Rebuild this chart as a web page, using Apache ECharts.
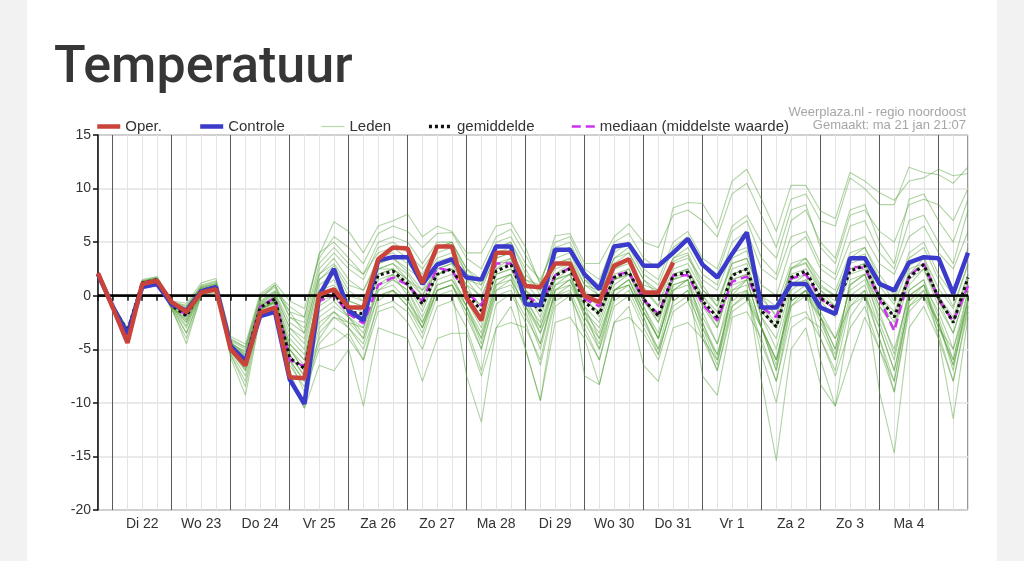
<!DOCTYPE html>
<html><head><meta charset="utf-8">
<script src="https://cdn.jsdelivr.net/npm/echarts@6/dist/echarts.min.js"></script>
<style>html,body{margin:0;padding:0;background:#fff;}#c{width:1024px;height:561px;}</style>
</head><body><div id="c"></div>
<script>
const times = ['ma21 18',
 'di22 00','di22 06','di22 12','di22 18','wo23 00','wo23 06','wo23 12','wo23 18',
 'do24 00','do24 06','do24 12','do24 18','vr25 00','vr25 06','vr25 12','vr25 18',
 'za26 00','za26 06','za26 12','za26 18','zo27 00','zo27 06','zo27 12','zo27 18',
 'ma28 00','ma28 06','ma28 12','ma28 18','di29 00','di29 06','di29 12','di29 18',
 'wo30 00','wo30 06','wo30 12','wo30 18','do31 00','do31 06','do31 12','do31 18',
 'vr1 00','vr1 06','vr1 12','vr1 18','za2 00','za2 06','za2 12','za2 18',
 'zo3 00','zo3 06','zo3 12','zo3 18','ma4 00','ma4 06','ma4 12','ma4 18',
 'di5 00','di5 06','di5 12'];
const dayLabels = ['Di 22','Wo 23','Do 24','Vr 25','Za 26','Zo 27','Ma 28','Di 29','Wo 30','Do 31','Vr 1','Za 2','Zo 3','Ma 4'];
const yTicks = {min: -20, max: 15, step: 5};

const oper = [2.1, -1.1,-4.4,1.1,1.4, -0.6,-1.5,0.3,0.6, -5.0,-6.5,-1.6,-1.1, -7.6,-7.7,0.1,0.6,
 -1.1,-1.1,3.4,4.5, 4.4,1.2,4.6,4.6, -0.2,-2.3,4.0,4.0, 0.9,0.8,3.0,3.0, 0.0,-0.6,2.8,3.4, 0.3,0.3,3.1];
const controle = [2.0, -1.0,-3.6,0.8,1.1, -0.8,-1.4,0.4,0.8, -4.7,-6.1,-1.9,-1.5, -7.8,-10.1,0.0,2.5,
 -1.4,-2.3,3.3,3.6, 3.6,1.1,2.9,3.4, 1.7,1.5,4.6,4.6, -0.8,-0.9,4.3,4.3, 2.0,0.6,4.6,4.8,
 2.8,2.8,4.0,5.3, 2.9,1.7,3.9,5.9, -1.1,-1.1,1.1,1.1, -1.1,-1.7,3.5,3.5, 1.1,0.5,3.1,3.6, 3.5,0.2,4.0];
const gemiddelde = [2.0, -1.0,-3.3,1.2,1.5, -0.9,-1.9,0.5,0.8, -4.8,-6.0,-1.1,-0.3, -5.8,-6.8,-0.2,0.2,
 -1.5,-1.7,1.9,2.3, 1.1,-0.8,2.0,2.5, 0.2,-1.4,2.3,2.9, -0.1,-1.4,1.9,2.5, -0.6,-1.7,1.7,2.2,
 -0.3,-1.9,1.9,2.2, -0.5,-2.0,1.9,2.5, -1.4,-2.9,1.7,2.3, -0.2,-1.2,2.3,2.8, -0.2,-2.0,1.7,2.9, -0.2,-2.5,1.7];
const mediaan = [2.0, -1.0,-3.3,1.2,1.5, -0.9,-1.8,0.5,0.9, -4.8,-5.9,-1.0,-0.2, -6.0,-6.6,-0.5,0.1,
 -1.7,-2.6,1.0,1.7, 1.0,-0.5,2.6,2.3, 0.3,-0.9,3.0,3.0, 0.0,-0.8,1.9,2.6, -0.3,-1.0,1.9,2.2,
 -0.4,-1.7,1.9,1.9, -0.8,-2.3,1.3,1.8, -1.1,-2.0,1.6,2.0, -0.3,-1.2,2.7,2.6, -0.3,-3.3,1.8,3.0, -0.3,-2.4,0.9];

const lid01 = [2.1, -0.9,-3.1,1.4,1.7, -0.7,-1.2,0.8,1.1, -4.3,-5.5,-0.8,0.2, -3.0,-4.5,1.5,2.8, 0.5,-0.5,3.0,3.5, 2.2,0.5,3.2,3.6, 1.5,-0.3,3.5,4.0, 1.2,-0.5,3.0,3.4, 0.5,-0.8,2.5,3.3, 0.8,-0.9,3.2,3.8, 0.6,-1.0,3.5,4.2, -0.3,-1.8,2.6,3.1, 0.8,0.0,3.4,3.9, 0.9,-0.8,2.8,3.6, 0.7,-1.2,2.9];
const lid02 = [1.9, -1.1,-3.6,1.0,1.3, -1.2,-3.5,0.2,0.5, -5.3,-7.5,-1.6,-1.0, -6.5,-8.5,-4.5,-3.0, -4.0,-6.0,-1.5,-1.0, -2.5,-5.0,-1.0,-0.5, -3.0,-7.0,-0.8,0.2, -2.5,-6.5,-0.5,0.3, -3.5,-6.0,-1.0,0.0, -3.0,-5.5,-0.5,0.5, -3.5,-7.0,-1.0,0.3, -4.5,-8.0,-2.0,-1.5, -4.0,-7.5,-3.0,-1.0, -5.0,-9.0,-1.5,0.0, -2.5,-6.5,-1.0];
const lid03 = [2.0, -0.8,-3.0,1.5,1.8, -0.5,-0.7,1.2,1.6, -3.8,-4.5,0.2,1.2, -0.5,-1.2,3.5,5.5, 4.5,3.0,5.8,6.5, 6.0,4.5,5.8,5.9, 3.5,2.5,5.5,6.2, 3.8,1.2,5.0,5.5, 2.5,1.5,5.0,5.8, 3.5,2.5,8.2,8.7, 8.6,6.3,10.7,11.8, 9.0,6.0,10.3,10.3, 7.9,7.2,11.5,10.7, 9.6,8.9,10.7,11.0, 11.8,11.2,11.4];
const lid04 = [2.0, -0.9,-3.2,1.3,1.6, -0.8,-1.5,0.6,1.0, -4.5,-5.2,-0.5,0.5, -1.0,-2.0,3.8,6.9, 6.0,4.0,6.5,7.0, 7.6,5.5,6.5,6.0, 4.0,4.0,6.5,6.8, 4.5,1.0,5.6,5.8, 3.0,3.0,5.5,6.7, 5.0,4.5,7.5,8.0, 7.0,5.5,9.5,10.5, 7.5,4.5,9.0,9.5, 7.0,6.5,11.0,10.0, 8.5,8.5,12.0,11.5, 11.3,10.5,12.0];
const lid05 = [2.0, -1.0,-3.4,1.2,1.5, -1.0,-2.5,0.4,0.7, -5.0,-6.5,-1.2,-0.5, -5.5,-7.5,-1.5,-0.5, -2.0,-3.0,1.0,1.5, 0.5,-2.5,1.0,1.5, -1.0,-4.0,1.5,2.0, -1.5,-5.0,0.5,1.5, -2.0,-4.5,0.5,1.5, -1.5,-4.0,1.0,1.5, -2.5,-6.0,0.5,1.0, -8.0,-15.4,-5.0,-3.0, -8.3,-10.3,-6.0,-2.0, -5.0,-8.0,-0.5,1.0, -3.0,-5.0,-0.5];
const lid06 = [2.0, -1.0,-3.3,1.1,1.4, -0.9,-2.0,0.4,0.8, -4.9,-6.3,-1.3,-0.6, -4.5,-6.0,0.5,1.5, -1.0,-2.5,2.0,2.5, 1.0,-1.5,2.0,2.5, 0.0,-2.5,2.0,2.5, 0.0,-3.0,1.5,2.0, -1.5,-3.0,1.0,2.0, -1.0,-3.5,1.5,2.5, -0.5,-3.0,2.0,2.5, -2.0,-5.0,0.5,1.5, -2.0,-4.0,-1.0,0.5, -9.0,-14.7,-3.0,-1.0, -4.0,-8.0,-1.5];
const lid07 = [2.0, -1.1,-3.5,1.1,1.4, -1.1,-3.0,0.3,0.6, -5.2,-7.0,-1.5,-0.9, -6.0,-8.0,-3.0,-1.5, -3.0,-5.0,-1.0,-0.5, -1.5,-4.0,0.0,0.5, -7.5,-11.8,-3.0,-1.0, -5.0,-9.8,-2.5,-2.0, -4.0,-8.3,-2.5,-2.0, -3.5,-6.0,-1.5,-0.5, -4.0,-7.0,-1.5,-0.5, -3.0,-6.0,-0.5,0.5, -2.0,-5.0,1.0,2.0, -1.0,-3.0,2.5,3.0, -0.5,-3.5,1.0];
const lid08 = [2.0, -1.0,-3.6,1.0,1.2, -1.3,-4.0,0.0,0.3, -5.8,-9.3,-2.0,-1.5, -8.0,-10.5,-6.5,-7.0, -5.0,-10.3,-3.0,-3.5, -4.0,-8.0,-4.0,-3.5, -3.5,-7.5,-3.0,-2.5, -3.0,-6.0,0.0,1.0, -1.5,-5.0,0.5,1.0, -2.0,-5.5,-0.5,0.5, -2.5,-5.5,0.0,1.5, -3.0,-7.0,1.0,2.0, -2.0,-6.0,1.5,2.0, -1.5,-5.5,0.5,1.5, -2.0,-6.0,0.5];
const lid09 = [2.0, -1.0,-3.3,1.2,1.5, -0.9,-1.8,0.5,0.9, -4.7,-5.8,-1.0,-0.2, -4.0,-5.5,0.0,0.5, -1.5,-2.0,1.5,2.0, 1.0,-0.5,2.5,3.0, 0.5,-1.0,3.0,3.2, 0.0,-1.5,2.0,2.5, -0.5,-1.5,2.0,2.5, -0.5,-2.0,1.5,2.0, -0.8,-2.5,1.5,2.0, -1.5,-3.0,1.5,2.0, 0.0,-1.0,2.5,3.0, -0.5,-2.5,1.5,2.5, -0.5,-2.5,1.5];
const lid10 = [2.1, -0.9,-3.1,1.3,1.6, -0.6,-1.0,1.0,1.4, -4.0,-4.8,0.0,1.0, -2.0,-3.0,2.5,4.0, 2.5,1.5,4.5,5.0, 4.0,2.5,4.5,5.0, 2.5,1.0,4.5,5.0, 2.5,0.0,4.0,4.5, 1.5,0.5,3.5,4.5, 2.0,1.0,4.5,5.5, 3.0,2.0,6.0,7.0, 3.5,2.0,7.0,8.0, 5.0,3.5,8.0,8.5, 5.0,3.0,9.0,9.5, 7.0,5.0,9.0];
const lid11 = [2.0, -1.0,-3.4,1.2,1.5, -1.0,-2.8,0.3,0.7, -5.0,-6.8,-1.3,-0.5, -5.0,-7.0,-1.0,0.0, -2.0,-4.0,1.0,2.0, 0.0,-3.0,1.5,2.0, -1.0,-4.5,1.0,2.0, -5.0,-9.8,-1.0,0.0, -3.0,-6.0,0.0,1.0, -2.0,-5.0,0.5,1.5, -3.0,-6.5,0.5,1.5, -3.0,-7.0,-1.0,0.5, -6.0,-10.3,-2.0,0.0, -3.0,-7.0,0.0,1.0, -2.5,-7.0,0.0];
const lid12 = [2.0, -1.1,-3.5,1.1,1.3, -1.0,-3.5,0.2,0.6, -5.5,-8.0,-1.8,-1.0, -6.0,-9.0,-5.0,-4.5, -3.5,-6.0,-0.5,0.5, -1.0,-3.5,0.5,1.0, -1.5,-5.0,0.5,1.5, -1.0,-4.5,0.5,1.5, -1.5,-3.5,0.5,1.5, -1.5,-4.0,0.5,1.5, -7.5,-9.3,-2.0,-1.5, -4.0,-8.0,-1.0,0.0, -2.0,-5.0,1.0,2.0, -2.5,-6.0,0.5,1.5, -4.0,-11.5,-2.0];
const lid13 = [2.0, -0.9,-3.2,1.3,1.6, -0.7,-1.3,0.7,1.1, -4.4,-5.3,-0.6,0.4, -1.5,-3.5,2.0,3.5, 1.5,0.5,3.5,4.0, 3.0,1.5,4.0,4.5, 2.0,0.5,4.0,4.5, 1.5,0.5,3.5,4.0, 1.0,0.0,3.0,4.0, 1.5,0.5,3.5,4.5, 2.0,1.0,5.0,6.0, 2.5,1.5,5.5,6.0, 3.0,2.0,6.5,7.0, 4.0,2.5,7.0,7.5, 5.0,3.0,8.0];
const lid14 = [2.0, -1.0,-3.4,1.2,1.4, -1.0,-2.2,0.4,0.7, -5.0,-6.5,-1.2,-0.6, -5.5,-7.5,-2.0,-1.0, -2.0,-3.5,0.5,1.0, -0.5,-3.0,0.5,1.0, -1.0,-3.5,1.0,1.5, -1.0,-3.0,1.0,2.0, -2.0,-4.0,0.5,1.0, -1.5,-4.0,0.5,1.0, -2.0,-4.5,0.0,0.5, -3.0,-6.0,-0.5,0.5, -1.5,-4.0,0.5,1.5, -2.0,-5.0,0.0,1.0, -1.5,-5.0,0.5];
const lid15 = [2.0, -1.0,-3.3,1.2,1.5, -0.8,-1.6,0.6,0.9, -4.7,-5.9,-1.0,-0.1, -3.5,-5.0,1.0,2.0, -0.5,-1.0,2.5,3.0, 2.0,0.0,2.5,3.0, 1.0,-1.5,2.5,3.5, 0.5,-2.0,2.0,3.0, 0.0,-2.0,1.5,2.0, 0.0,-2.5,2.0,2.5, 0.0,-2.0,2.5,3.0, -1.0,-3.0,2.5,3.0, 0.5,-1.0,3.0,3.5, 0.0,-2.0,2.0,3.5, 0.0,-2.5,2.0];
const lid16 = [2.0, -0.9,-3.2,1.3,1.6, -0.8,-1.4,0.7,1.0, -4.5,-5.5,-0.7,0.3, -2.5,-3.5,2.0,3.0, 1.0,0.5,3.0,3.5, 2.5,1.5,3.5,4.0, 1.5,1.0,3.5,4.0, 1.5,1.0,3.0,3.5, 1.0,0.5,2.5,3.0, 1.0,0.5,3.0,3.5, 1.5,0.5,4.0,4.5, 1.0,0.0,4.5,5.5, 2.5,1.5,5.0,5.5, 3.0,2.0,5.5,6.5, 4.0,2.5,6.0];
const lid17 = [2.0, -1.1,-3.6,1.0,1.2, -1.2,-4.5,0.1,0.4, -5.5,-8.5,-1.9,-1.5, -7.0,-10.5,-3.5,-2.0, -3.0,-4.5,0.0,0.5, -1.0,-3.0,0.5,1.0, -2.0,-5.0,0.0,0.5, -2.0,-4.5,0.5,1.0, -7.5,-8.3,-2.5,-1.0, -6.5,-8.0,-3.0,-2.5, -4.0,-6.0,-1.0,0.0, -3.0,-6.0,0.0,1.0, -4.0,-7.0,-1.0,0.0, -4.0,-8.0,-0.5,0.5, -3.0,-6.0,-0.5];
const lid18 = [2.0, -1.0,-3.2,1.2,1.6, -0.9,-1.7,0.6,0.9, -4.6,-5.6,-0.9,0.0, -3.0,-4.0,1.5,2.5, 0.0,-0.5,2.5,3.0, 1.5,0.0,3.0,3.5, 1.0,0.0,3.0,3.5, 0.5,-0.5,2.5,3.0, 0.0,-1.0,2.5,3.5, 0.5,-1.0,2.5,3.0, 0.5,-0.5,3.0,3.5, 0.0,-1.0,3.0,3.5, 1.0,0.0,3.5,4.5, 1.5,-0.5,4.0,5.0, 2.0,0.0,4.5];
const lid19 = [2.0, -1.0,-3.4,1.1,1.4, -1.0,-2.5,0.3,0.6, -5.1,-7.0,-1.4,-0.7, -5.0,-7.0,-2.5,-1.5, -2.5,-4.0,0.0,0.5, -0.5,-2.5,0.5,1.0, -1.5,-4.0,0.5,1.0, -1.0,-3.5,0.0,0.5, -2.5,-5.0,-0.5,0.5, -2.5,-5.0,-1.0,0.0, -3.0,-5.5,-0.5,0.5, -5.5,-10.0,-3.0,-2.0, -3.0,-6.0,-0.5,0.5, -4.0,-9.0,-1.0,0.0, -3.5,-8.0,-1.0];
const lid20 = [2.0, -0.9,-3.1,1.4,1.7, -0.6,-0.9,0.9,1.3, -4.1,-4.8,-0.3,1.0, -1.5,-2.0,4.0,5.0, 3.5,2.0,5.0,5.5, 5.0,3.0,5.0,5.0, 2.5,1.5,4.5,5.0, 2.0,0.5,4.0,4.5, 1.5,0.0,3.5,4.0, 1.5,0.0,3.5,4.0, 1.0,-1.0,3.0,3.5, 0.0,-2.0,2.5,3.5, 1.5,0.5,4.0,4.5, 2.0,0.0,3.5,4.5, 1.5,-1.0,3.0];
const lid21 = [2.0, -1.0,-3.3,1.2,1.5, -0.9,-1.9,0.5,0.8, -4.8,-6.1,-1.1,-0.4, -5.0,-6.5,-0.5,0.0, -1.0,-1.5,2.0,2.5, 1.5,-1.0,2.0,2.5, 0.0,-2.0,2.0,2.5, -0.5,-2.5,1.5,2.0, -1.0,-2.5,1.5,2.0, -0.5,-2.5,1.5,2.0, -1.0,-3.0,1.5,2.0, -2.0,-4.0,1.0,1.5, -0.5,-2.0,2.0,2.5, -1.0,-3.0,1.0,2.5, -1.0,-3.5,1.0];
const lid22 = [2.0, -1.0,-3.2,1.2,1.5, -0.8,-1.7,0.5,0.8, -4.6,-5.7,-0.9,-0.1, -4.5,-6.0,0.5,1.0, -0.5,-1.0,2.5,2.5, 1.5,0.5,2.0,2.5, 0.5,-1.0,2.5,3.0, 0.5,-1.0,1.5,2.5, -0.5,-1.5,1.5,2.5, -0.5,-2.0,2.0,2.5, 0.0,-1.5,2.0,2.5, -1.0,-2.5,2.0,2.5, 0.5,-0.5,2.5,3.0, 0.0,-1.5,2.0,3.0, 0.0,-2.0,2.0];
const lid23 = [2.0, -1.1,-3.4,1.1,1.4, -1.0,-2.3,0.4,0.7, -5.0,-6.6,-1.3,-0.6, -6.0,-8.0,-4.0,-2.0, -2.5,-3.0,0.5,1.5, 0.5,-2.0,1.0,1.5, -0.5,-3.0,1.5,2.0, -0.5,-3.5,1.0,1.5, -1.0,-4.0,0.5,1.5, -1.0,-4.0,1.0,1.5, -1.5,-4.5,1.0,1.5, -3.0,-6.5,-0.5,0.5, -2.5,-5.5,0.0,1.0, -3.0,-7.0,-1.0,0.5, -2.5,-6.5,-0.5];
const lid24 = [2.0, -0.9,-3.2,1.3,1.6, -0.7,-1.1,0.8,1.2, -4.2,-5.0,-0.2,0.8, -2.0,-2.5,3.0,4.5, 3.0,2.0,4.0,4.5, 3.5,2.0,4.5,5.0, 2.0,1.5,5.0,5.5, 3.0,1.5,4.5,5.0, 2.0,1.0,4.0,5.0, 2.5,1.5,5.0,6.0, 3.5,2.5,6.5,7.5, 5.0,3.5,8.0,8.5, 4.5,3.0,7.5,8.0, 6.0,5.0,8.5,9.0, 8.5,7.0,10.0];
const leden = [lid01,lid02,lid03,lid04,lid05,lid06,lid07,lid08,lid09,lid10,lid11,lid12,
               lid13,lid14,lid15,lid16,lid17,lid18,lid19,lid20,lid21,lid22,lid23,lid24];

const FONT = "'Liberation Sans', Arial, sans-serif";
const chart = echarts.init(document.getElementById('c'), null, {renderer: 'canvas'});

const GREEN = '#4f9e33';
const series = leden.map(d => ({
  type: 'line', name: 'Leden', data: d, symbol: 'none', silent: true, z: 2,
  lineStyle: {color: GREEN, width: 1.1, opacity: 0.45},
  itemStyle: {color: GREEN},
  emphasis: {disabled: true}
}));
series.push({
  type: 'line', name: 'mediaan (middelste waarde)', data: mediaan, symbol: 'none', z: 4,
  lineStyle: {color: '#cc33ee', width: 2.5, type: [9, 5]}, itemStyle: {color: '#cc33ee'},
  emphasis: {disabled: true},
  markLine: {silent: true, symbol: 'none', label: {show: false},
    lineStyle: {color: '#000', width: 2.5, type: 'solid'}, data: [{yAxis: 0}], animation: false}
});
series.push({
  type: 'line', name: 'gemiddelde', data: gemiddelde, symbol: 'none', z: 5,
  lineStyle: {color: '#111', width: 3, type: [3, 3]}, itemStyle: {color: '#111'},
  emphasis: {disabled: true}
});
series.push({
  type: 'line', name: 'Controle', data: controle, symbol: 'none', z: 6,
  lineStyle: {color: '#3a3acb', width: 4.5}, itemStyle: {color: '#3a3acb'},
  emphasis: {disabled: true}
});
series.push({
  type: 'line', name: 'Oper.', data: oper, symbol: 'none', z: 7,
  lineStyle: {color: '#c9433b', width: 4.5}, itemStyle: {color: '#c9433b'},
  emphasis: {disabled: true}
});

chart.setOption({
  animation: false,
  backgroundColor: '#ffffff',
  textStyle: {fontFamily: FONT},
  graphic: [
    {type: 'rect', shape: {x: 0, y: 0, width: 27, height: 561}, style: {fill: '#f2f2f2'}, silent: true},
    {type: 'rect', shape: {x: 997, y: 0, width: 27, height: 561}, style: {fill: '#f2f2f2'}, silent: true},
    {type: 'text', x: 54, y: 69, silent: true,
     style: {text: 'Temperatuur', fontFamily: 'Roboto', fontWeight: 500, fontSize: 52,
             fill: '#363636', verticalAlign: 'middle', align: 'left'}},
    {type: 'text', x: 966, y: 112, silent: true,
     style: {text: 'Weerplaza.nl - regio noordoost', fontFamily: FONT, fontSize: 13,
             fill: '#a6a6a6', verticalAlign: 'middle', align: 'right'}},
    {type: 'text', x: 966, y: 125, silent: true,
     style: {text: 'Gemaakt: ma 21 jan 21:07', fontFamily: FONT, fontSize: 13,
             fill: '#a6a6a6', verticalAlign: 'middle', align: 'right'}}
  ],
  legend: {
    left: 95, top: 119, padding: 0, itemWidth: 23, itemHeight: 14, itemGap: 36,
    textStyle: {fontSize: 15, color: '#333', fontFamily: FONT},
    itemStyle: {opacity: 0},
    data: [
      {name: 'Oper.', lineStyle: {width: 4.5, opacity: 1}},
      {name: 'Controle', lineStyle: {width: 4.5, opacity: 1}},
      {name: 'Leden', lineStyle: {width: 1.2, opacity: 1, color: '#b5daa8'}},
      {name: 'gemiddelde', lineStyle: {width: 3.5, opacity: 1}},
      {name: 'mediaan (middelste waarde)', lineStyle: {width: 2.5, opacity: 1}}
    ],
    selectedMode: false
  },
  grid: {left: 98, right: 56, top: 135, bottom: 51, show: true,
         borderColor: '#333', borderWidth: 1, backgroundColor: 'transparent'},
  xAxis: [{
    type: 'category', data: times, boundaryGap: false,
    axisLine: {show: true, lineStyle: {color: '#111', width: 1.5}},
    axisTick: {show: true, interval: 0, length: 5, inside: false, lineStyle: {color: '#111', width: 1.5}},
    axisLabel: {interval: (i) => i % 4 === 3, formatter: (v, i) => dayLabels[(i - 3) / 4],
                fontSize: 14, color: '#333', margin: 7, fontFamily: FONT},
    splitLine: {show: true, interval: 0, lineStyle: {color: '#e3e3e3', width: 1}}
  }, {
    type: 'category', data: times, boundaryGap: false, position: 'top',
    axisLine: {show: false}, axisTick: {show: false}, axisLabel: {show: false},
    splitLine: {show: true, interval: (i) => i % 4 === 1, lineStyle: {color: '#5a5a5a', width: 1}}
  }],
  yAxis: {
    type: 'value', min: yTicks.min, max: yTicks.max, interval: yTicks.step,
    axisLine: {show: true, lineStyle: {color: '#111', width: 1.5}},
    axisTick: {show: true, length: 5, lineStyle: {color: '#111', width: 1.5}},
    axisLabel: {fontSize: 14, color: '#333', margin: 7, fontFamily: FONT},
    splitLine: {show: true, lineStyle: {color: '#e3e3e3', width: 1.5}}
  },
  series: series
});
</script></body></html>
